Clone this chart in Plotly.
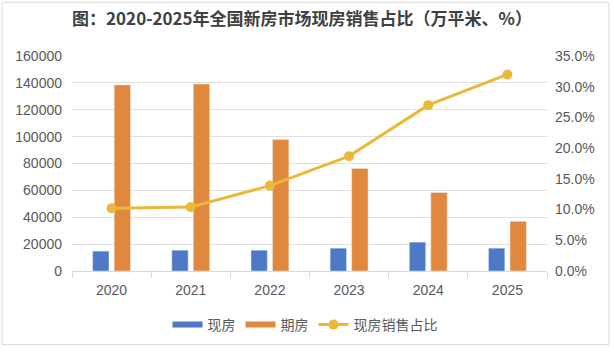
import plotly.graph_objects as go

years = ["2020", "2021", "2022", "2023", "2024", "2025"]
spot = [14800, 15500, 15500, 17000, 21500, 17000]
presale = [138500, 139200, 97800, 76300, 58500, 37000]
ratio = [0.102, 0.104, 0.139, 0.187, 0.270, 0.320]

BLUE = "#4E79C7"
ORANGE = "#E1883F"
GOLD = "#EBB93A"
FONT = "Liberation Sans, Noto Sans CJK SC, sans-serif"
TXT = "#595959"

W, H = 614, 352
L, R, T, B = 72, 67, 56, 80
pw, ph = W - L - R, H - T - B

fig = go.Figure()
fig.add_trace(go.Bar(x=years, y=spot, name="现房", marker_color=BLUE, showlegend=False))
fig.add_trace(go.Bar(x=years, y=presale, name="期房", marker_color=ORANGE, showlegend=False))
fig.add_trace(go.Scatter(x=years, y=ratio, name="现房销售占比", yaxis="y2", mode="lines+markers",
                         line=dict(color=GOLD, width=3), marker=dict(color=GOLD, size=10),
                         showlegend=False))
# legend proxies
fig.add_trace(go.Scatter(x=[None], y=[None], name="现房", mode="lines", line=dict(color=BLUE, width=6)))
fig.add_trace(go.Scatter(x=[None], y=[None], name="期房", mode="lines", line=dict(color=ORANGE, width=6)))
fig.add_trace(go.Scatter(x=[None], y=[None], name="现房销售占比", mode="lines+markers",
                         line=dict(color=GOLD, width=3), marker=dict(color=GOLD, size=10)))


def px2paper(x, y):
    return (x - L) / pw, (H - B - y) / ph

x0, y0 = px2paper(2, 2)
x1, y1 = px2paper(609, 346)

fig.update_layout(
    width=W, height=H,
    margin=dict(l=L, r=R, t=T, b=B),
    paper_bgcolor="white", plot_bgcolor="white",
    font=dict(family=FONT, size=14, color=TXT),
    title=dict(text="<b>图：2020-2025年全国新房市场现房销售占比（万平米、%）</b>",
               x=(302) / W, xanchor="center", y=1 - 19 / H, yanchor="middle",
               font=dict(family="Noto Sans CJK SC, sans-serif", size=17, color="#404040")),
    barmode="group", bargap=0.456, bargroupgap=0.24,
    xaxis=dict(type="category", showgrid=False, showline=True, linecolor="#d9d9d9", linewidth=1,
               ticks="outside", tickson="boundaries", ticklen=6, tickcolor="#d9d9d9",
               ticklabelstandoff=6, tickfont=dict(size=14, color=TXT)),
    yaxis=dict(range=[0, 160000], dtick=20000, showgrid=True, gridcolor="#e0e0e0", gridwidth=1,
               zeroline=False, showline=False, tickformat="d", ticklabelstandoff=9,
               tickfont=dict(size=14, color=TXT)),
    yaxis2=dict(range=[0, 0.35], dtick=0.05, overlaying="y", side="right", showgrid=False,
                zeroline=False, showline=False, tickformat=".1%", ticklabelstandoff=7,
                tickfont=dict(size=14, color=TXT)),
    legend=dict(orientation="h", x=(305 - L) / pw, xanchor="center", y=px2paper(0, 325)[1],
                yanchor="middle", font=dict(size=14, color=TXT), itemwidth=30,
                tracegroupgap=0),
    shapes=[dict(type="rect", xref="paper", yref="paper", x0=x0, y0=y0, x1=x1, y1=y1,
                 line=dict(color="#d9d9d9", width=1), layer="below")],
)

fig.write_html("out.html")
